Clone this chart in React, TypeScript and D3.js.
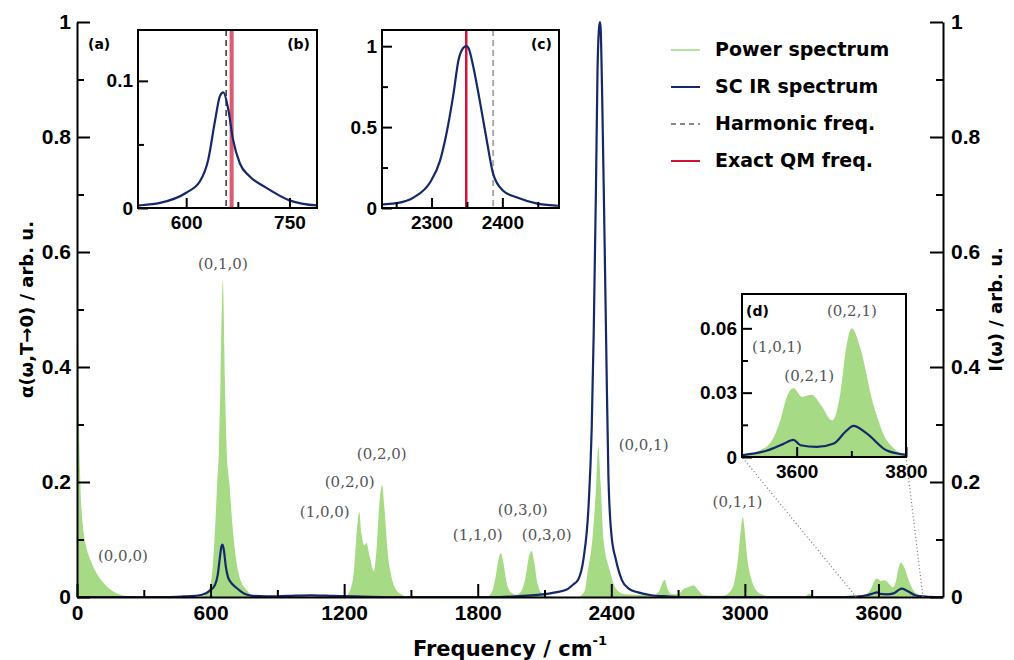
import { useRef, useEffect } from 'react'
import * as d3 from 'd3'

// power spectrum alpha(w, T->0)
const powerFreq = [0, 4, 8, 15, 25, 40, 60, 90, 130, 170, 220, 280, 560, 590, 605, 620, 630, 637, 645, 655, 664, 673, 684, 700, 730, 763, 800, 1200, 1225, 1245, 1258, 1268, 1278, 1290, 1300, 1315, 1333, 1345, 1358, 1370, 1382, 1395, 1410, 1430, 1460, 1490, 1840, 1865, 1880, 1895, 1905, 1915, 1930, 1950, 1975, 1995, 2015, 2030, 2042, 2054, 2068, 2085, 2110, 2140, 2250, 2280, 2295, 2315, 2330, 2342, 2352, 2365, 2393, 2420, 2460, 2590, 2615, 2630, 2640, 2652, 2670, 2700, 2725, 2750, 2770, 2790, 2810, 2850, 2900, 2935, 2955, 2970, 2983, 2990, 2998, 3010, 3030, 3050, 3080, 3120, 3270, 3290, 3310, 3500, 3546, 3570, 3582, 3594, 3610, 3627, 3645, 3665, 3680, 3690, 3701, 3715, 3741, 3760, 3778, 3800, 3830, 3890]
const powerVal = [1.0, 0.6, 0.35, 0.2, 0.13, 0.09, 0.065, 0.04, 0.02, 0.008, 0.002, 0, 0, 0.012, 0.035, 0.117, 0.2, 0.25, 0.38, 0.55, 0.38, 0.25, 0.2, 0.117, 0.035, 0.012, 0, 0, 0.01, 0.05, 0.12, 0.148, 0.11, 0.09, 0.094, 0.07, 0.045, 0.08, 0.16, 0.195, 0.15, 0.08, 0.04, 0.015, 0.004, 0, 0, 0.01, 0.035, 0.068, 0.076, 0.06, 0.025, 0.008, 0.004, 0.01, 0.035, 0.07, 0.08, 0.06, 0.025, 0.008, 0.002, 0, 0, 0.01, 0.047, 0.1, 0.18, 0.262, 0.2, 0.1, 0.047, 0.015, 0.005, 0.003, 0.01, 0.025, 0.03, 0.015, 0.005, 0.005, 0.014, 0.018, 0.02, 0.012, 0.004, 0.002, 0.002, 0.01, 0.03, 0.07, 0.12, 0.139, 0.12, 0.07, 0.03, 0.012, 0.004, 0.001, 0.001, 0.006, 0.001, 0.001, 0.005, 0.017, 0.028, 0.032, 0.028, 0.029, 0.024, 0.017, 0.03, 0.05, 0.06, 0.052, 0.024, 0.01, 0.004, 0.001, 0, 0]

// semiclassical IR spectrum I(w)
const irFreq = [0, 400, 480, 530, 562, 600, 620, 632, 642, 649, 654, 661, 668, 678, 692, 716, 750, 790, 850, 950, 1050, 1150, 1250, 1400, 1900, 2000, 2080, 2150, 2200, 2230, 2251, 2275, 2298, 2312, 2321, 2331, 2338, 2345, 2349, 2352, 2359, 2368, 2378, 2387, 2401, 2420, 2448, 2480, 2520, 2580, 2650, 2700, 3450, 3500, 3546, 3575, 3594, 3607, 3637, 3668, 3690, 3704, 3728, 3765, 3800, 3850, 3890]
const irVal = [0, 0, 0.001, 0.002, 0.004, 0.012, 0.021, 0.038, 0.069, 0.088, 0.091, 0.078, 0.054, 0.035, 0.025, 0.016, 0.006, 0.002, 0.001, 0.002, 0.003, 0.002, 0.001, 0, 0, 0.002, 0.004, 0.008, 0.013, 0.022, 0.03, 0.066, 0.159, 0.293, 0.459, 0.707, 0.913, 0.99, 1.0, 0.99, 0.872, 0.665, 0.417, 0.211, 0.107, 0.066, 0.029, 0.014, 0.008, 0.003, 0.001, 0, 0, 0.0008, 0.003, 0.006, 0.008, 0.0055, 0.0047, 0.0063, 0.012, 0.0145, 0.011, 0.003, 0.001, 0, 0]

const harmonicFreq = [658, 2387]
const exactFreq = [666, 2349]

const xTicks = [0, 600, 1200, 1800, 2400, 3000, 3600]
const xMinorTicks = [300, 900, 1500, 2100, 2700, 3300]
const yTicks = [0, 0.2, 0.4, 0.6, 0.8, 1]
const yMinorTicks = [0.1, 0.3, 0.5, 0.7, 0.9]

const legendLabels = ['Power spectrum', 'SC IR spectrum', 'Harmonic freq.', 'Exact QM freq.']

const peakLabels = ['(0,0,0)', '(0,1,0)', '(1,0,0)', '(0,2,0)', '(0,2,0)', '(1,1,0)', '(0,3,0)', '(0,3,0)', '(0,0,1)', '(0,1,1)']
const peakLabelFreq = [206, 655, 1113, 1225, 1369, 1800, 2002, 2110, 2545, 2967]
const peakLabelVal = [0.07, 0.577, 0.146, 0.198, 0.247, 0.106, 0.15, 0.106, 0.263, 0.163]

const zoomLabels = ['(1,0,1)', '(0,2,1)', '(0,2,1)']
const zoomLabelFreq = [3564, 3623, 3701]
const zoomLabelVal = [0.051, 0.0375, 0.0675]

const GREEN = '#a6da84'
const NAVY = '#14286a'
const RED = '#d3123a'
const TICK_FONT = '"Liberation Sans", Arial, sans-serif'
const TITLE_FONT = '"DejaVu Sans", sans-serif'

const Chart = () => {
  const svgRef = useRef(null)

  useEffect(() => {
    const svg = d3.select(svgRef.current)
    svg.selectAll('*').remove()

    const left = 77
    const right = 943
    const top = 22
    const bottom = 597

    const x = d3.scaleLinear().domain([0, 3890]).range([left, right])
    const y = d3.scaleLinear().domain([0, 1]).range([bottom, top])

    const pIdx = d3.range(powerFreq.length)
    const iIdx = d3.range(irFreq.length)
    const defs = svg.append('defs')

    const styleAxis = (g, size) => {
      g.attr('font-family', TICK_FONT).attr('font-size', size).attr('font-weight', 'bold')
      g.selectAll('line').attr('stroke-width', 2)
      g.select('.domain').attr('stroke-width', 2)
    }

    // main plot
    defs.append('clipPath').attr('id', 'clip-main')
      .append('rect').attr('x', left).attr('y', 0).attr('width', right - left).attr('height', bottom)

    const plot = svg.append('g').attr('clip-path', 'url(#clip-main)')
    const mainArea = d3.area()
      .x((i) => x(powerFreq[i])).y0(y(0)).y1((i) => y(powerVal[i]))
      .curve(d3.curveMonotoneX)
    const mainLine = d3.line()
      .x((i) => x(irFreq[i])).y((i) => y(irVal[i]))
      .curve(d3.curveMonotoneX)
    plot.append('path').attr('d', mainArea(pIdx)).attr('fill', GREEN)
    plot.append('path').attr('d', mainLine(iIdx)).attr('fill', 'none')
      .attr('stroke', NAVY).attr('stroke-width', 2.2)

    // axes
    const fmt = d3.format('~g')
    const leftAxis = svg.append('g').attr('transform', `translate(${left},0)`)
      .call(d3.axisLeft(y).tickValues(yTicks).tickSizeInner(-13).tickSizeOuter(0).tickPadding(6).tickFormat(fmt))
    styleAxis(leftAxis, 21)
    const leftMinor = svg.append('g').attr('transform', `translate(${left},0)`)
      .call(d3.axisLeft(y).tickValues(yMinorTicks).tickSizeInner(-7).tickSizeOuter(0).tickFormat(() => ''))
    leftMinor.select('.domain').remove()
    styleAxis(leftMinor, 21)

    const rightAxis = svg.append('g').attr('transform', `translate(${right},0)`)
      .call(d3.axisRight(y).tickValues(yTicks).tickSizeInner(-13).tickSizeOuter(0).tickPadding(8).tickFormat(fmt))
    styleAxis(rightAxis, 21)
    const rightMinor = svg.append('g').attr('transform', `translate(${right},0)`)
      .call(d3.axisRight(y).tickValues(yMinorTicks).tickSizeInner(-7).tickSizeOuter(0).tickFormat(() => ''))
    rightMinor.select('.domain').remove()
    styleAxis(rightMinor, 21)

    const bottomAxis = svg.append('g').attr('transform', `translate(0,${bottom})`)
      .call(d3.axisBottom(x).tickValues(xTicks).tickSizeInner(-13).tickSizeOuter(0).tickPadding(8).tickFormat(fmt))
    styleAxis(bottomAxis, 21)
    const bottomMinor = svg.append('g').attr('transform', `translate(0,${bottom})`)
      .call(d3.axisBottom(x).tickValues(xMinorTicks).tickSizeInner(-7).tickSizeOuter(0).tickFormat(() => ''))
    bottomMinor.select('.domain').remove()
    styleAxis(bottomMinor, 21)

    // axis titles
    const xTitle = svg.append('text')
      .attr('x', (left + right) / 2).attr('y', 656)
      .attr('text-anchor', 'middle')
      .attr('font-family', TITLE_FONT).attr('font-weight', 'bold').attr('font-size', 21)
    xTitle.append('tspan').text('Frequency / cm')
    xTitle.append('tspan').attr('dy', -11).attr('font-size', 13).text('-1')

    svg.append('text')
      .attr('transform', `translate(28,${(top + bottom) / 2}) rotate(-90)`)
      .attr('text-anchor', 'middle').attr('dominant-baseline', 'middle')
      .attr('font-family', TITLE_FONT).attr('font-weight', 'bold').attr('font-size', 18)
      .text('α(ω,T→0) / arb. u.')
    svg.append('text')
      .attr('transform', `translate(997,${(top + bottom) / 2}) rotate(-90)`)
      .attr('text-anchor', 'middle').attr('dominant-baseline', 'middle')
      .attr('font-family', TITLE_FONT).attr('font-weight', 'bold').attr('font-size', 18)
      .text('I(ω) / arb. u.')

    // peak assignments
    svg.append('g').selectAll('text').data(peakLabels).join('text')
      .attr('x', (d, i) => x(peakLabelFreq[i]))
      .attr('y', (d, i) => y(peakLabelVal[i]))
      .attr('text-anchor', 'middle').attr('dominant-baseline', 'middle')
      .attr('font-family', '"DejaVu Serif", serif').attr('font-size', 15)
      .attr('fill', '#555')
      .text((d) => d)

    svg.append('text').attr('x', 88).attr('y', 45).attr('dominant-baseline', 'middle')
      .attr('font-family', TITLE_FONT).attr('font-weight', 'bold').attr('font-size', 14).text('(a)')

    // insets
    const insets = [
      { id: 'b', box: [138, 317, 30, 208], xd: [530, 790], yd: [0, 0.14], xMajor: [600, 750], xMinor: [675], yMajor: [0, 0.1], yMinor: [0.05], power: false, marker: 0 },
      { id: 'c', box: [382, 559, 30, 208], xd: [2230, 2480], yd: [0, 1.1], xMajor: [2300, 2400], xMinor: [2250, 2350, 2450], yMajor: [0, 0.5, 1], yMinor: [0.25, 0.75], power: false, marker: 1 },
      { id: 'd', box: [742, 906, 294, 457], xd: [3500, 3800], yd: [0, 0.076], xMajor: [3600, 3800], xMinor: [3700], yMajor: [0, 0.03, 0.06], yMinor: [0.015, 0.045], power: true, marker: -1 },
    ]

    // guide lines from the main axis to inset (d)
    const dBox = insets[2].box
    const guides = svg.append('g').attr('stroke', '#777').attr('stroke-width', 1.2).attr('stroke-dasharray', '1,2.5')
    guides.append('line').attr('x1', x(insets[2].xd[0])).attr('y1', y(0)).attr('x2', dBox[0]).attr('y2', dBox[3])
    guides.append('line').attr('x1', x(insets[2].xd[1])).attr('y1', y(0)).attr('x2', dBox[1]).attr('y2', dBox[3])

    insets.forEach((cfg) => {
      const [x0, x1, y0, y1] = cfg.box
      const ix = d3.scaleLinear().domain(cfg.xd).range([x0, x1])
      const iy = d3.scaleLinear().domain(cfg.yd).range([y1, y0])
      const g = svg.append('g')
      g.append('rect').attr('x', x0).attr('y', y0).attr('width', x1 - x0).attr('height', y1 - y0).attr('fill', '#fff')
      defs.append('clipPath').attr('id', `clip-${cfg.id}`)
        .append('rect').attr('x', x0).attr('y', y0).attr('width', x1 - x0).attr('height', y1 - y0)
      const content = g.append('g').attr('clip-path', `url(#clip-${cfg.id})`)

      if (cfg.power) {
        const a = d3.area().x((i) => ix(powerFreq[i])).y0(iy(0)).y1((i) => iy(powerVal[i])).curve(d3.curveMonotoneX)
        content.append('path').attr('d', a(pIdx)).attr('fill', GREEN)
      }
      if (cfg.marker === 0) {
        content.append('line').attr('x1', ix(exactFreq[0])).attr('x2', ix(exactFreq[0])).attr('y1', y0).attr('y2', y1)
          .attr('stroke', '#dc5a72').attr('stroke-width', 4)
        content.append('line').attr('x1', ix(harmonicFreq[0])).attr('x2', ix(harmonicFreq[0])).attr('y1', y0).attr('y2', y1)
          .attr('stroke', '#333').attr('stroke-width', 1.5).attr('stroke-dasharray', '6,4')
      }
      if (cfg.marker === 1) {
        content.append('line').attr('x1', ix(harmonicFreq[1])).attr('x2', ix(harmonicFreq[1])).attr('y1', y0).attr('y2', y1)
          .attr('stroke', '#aaa').attr('stroke-width', 2).attr('stroke-dasharray', '6,4')
        content.append('line').attr('x1', ix(exactFreq[1])).attr('x2', ix(exactFreq[1])).attr('y1', y0).attr('y2', y1)
          .attr('stroke', RED).attr('stroke-width', 2.5)
      }
      const l = d3.line().x((i) => ix(irFreq[i])).y((i) => iy(irVal[i])).curve(d3.curveMonotoneX)
      content.append('path').attr('d', l(iIdx)).attr('fill', 'none').attr('stroke', NAVY).attr('stroke-width', 2.2)

      const ax = (axis) => {
        const a = g.append('g').call(axis)
        a.select('.domain').remove()
        styleAxis(a, 19)
        return a
      }
      ax(d3.axisBottom(ix).tickValues(cfg.xMajor).tickSizeInner(-10).tickSizeOuter(0).tickPadding(8).tickFormat(fmt))
        .attr('transform', `translate(0,${y1})`)
      ax(d3.axisBottom(ix).tickValues(cfg.xMinor).tickSizeInner(-6).tickSizeOuter(0).tickFormat(() => ''))
        .attr('transform', `translate(0,${y1})`)
      ax(d3.axisLeft(iy).tickValues(cfg.yMajor).tickSizeInner(-10).tickSizeOuter(0).tickPadding(5).tickFormat(fmt))
        .attr('transform', `translate(${x0},0)`)
      ax(d3.axisLeft(iy).tickValues(cfg.yMinor).tickSizeInner(-6).tickSizeOuter(0).tickFormat(() => ''))
        .attr('transform', `translate(${x0},0)`)

      g.append('rect').attr('x', x0).attr('y', y0).attr('width', x1 - x0).attr('height', y1 - y0)
        .attr('fill', 'none').attr('stroke', '#000').attr('stroke-width', 2)

      const tag = g.append('text').attr('dominant-baseline', 'middle')
        .attr('font-family', TITLE_FONT).attr('font-weight', 'bold').attr('font-size', 14)
        .text(`(${cfg.id})`)
      if (cfg.id === 'd') tag.attr('x', x0 + 4).attr('y', y0 + 18)
      else tag.attr('x', x1 - 7).attr('y', y0 + 15).attr('text-anchor', 'end')

      if (cfg.power) {
        g.append('g').selectAll('text').data(zoomLabels).join('text')
          .attr('x', (d, i) => ix(zoomLabelFreq[i]))
          .attr('y', (d, i) => iy(zoomLabelVal[i]))
          .attr('text-anchor', 'middle').attr('dominant-baseline', 'middle')
          .attr('font-family', '"DejaVu Serif", serif').attr('font-size', 15)
          .attr('fill', '#555')
          .text((d) => d)
      }
    })

    // legend
    const legendStyles = [
      { stroke: '#b5e3a0', dash: null },
      { stroke: NAVY, dash: null },
      { stroke: '#888', dash: '5,4' },
      { stroke: RED, dash: null },
    ]
    const legend = svg.append('g')
    legendLabels.forEach((label, i) => {
      const ly = 50 + i * 37
      legend.append('line').attr('x1', 671).attr('x2', 700).attr('y1', ly).attr('y2', ly)
        .attr('stroke', legendStyles[i].stroke).attr('stroke-width', 2)
        .attr('stroke-dasharray', legendStyles[i].dash)
      legend.append('text').attr('x', 715).attr('y', ly).attr('dominant-baseline', 'middle')
        .attr('font-family', TITLE_FONT).attr('font-weight', 'bold').attr('font-size', 19)
        .text(label)
    })
  }, [])

  return (
    <svg
      ref={svgRef}
      width={1014}
      height={660}
      style={{ position: 'absolute', left: 0, top: 0, background: '#fff' }}
    />
  )
}

export default function App() {
  return <Chart />
}
